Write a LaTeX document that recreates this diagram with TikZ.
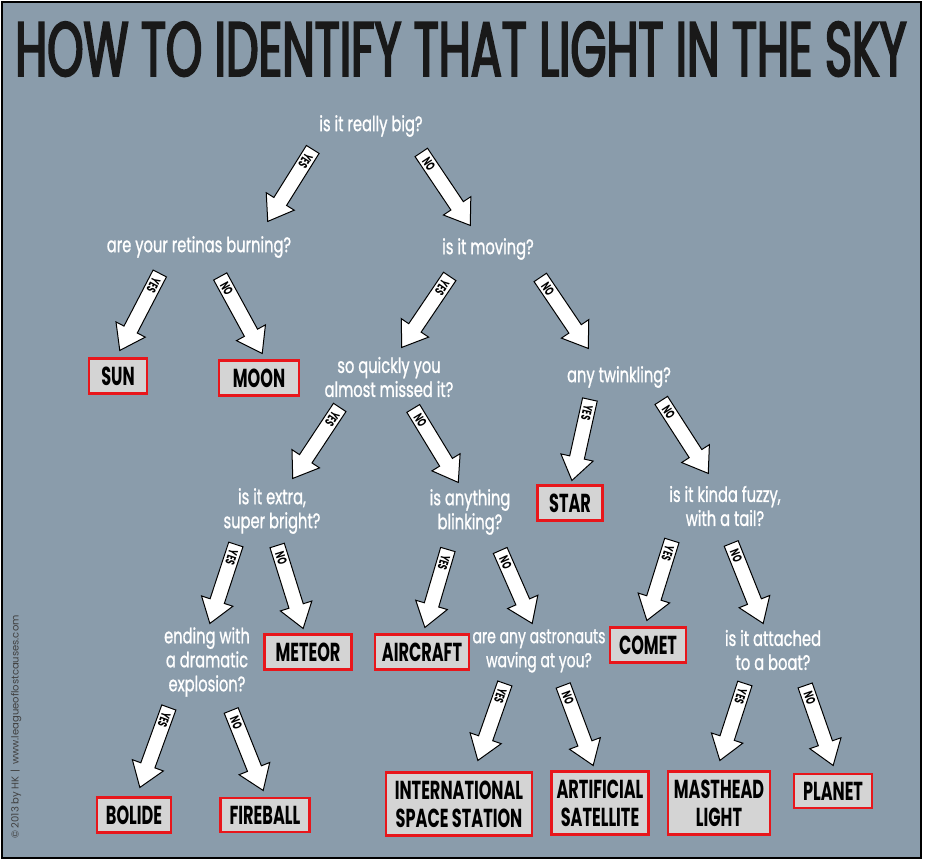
\documentclass[tikz,border=0pt]{standalone}
\usepackage{fontspec}
\setmainfont{Poppins}
\newfontfamily\headfont{Poppins}[FakeStretch=0.6, FakeBold=2.5]
\newfontfamily\askfont{Poppins}[FakeStretch=0.7, FakeBold=1]
\newfontfamily\thingfont{Poppins}[FakeStretch=0.62]
\usetikzlibrary{calc}
\usetikzlibrary{shapes.arrows}

\definecolor{skyblue}{HTML}{8A9CAB}
\definecolor{boxgray}{HTML}{D4D4D4}
\definecolor{boxred}{HTML}{E8161B}

\newcommand\choice[4]{%
  \coordinate (#1-t) at (#2);
  \coordinate (#1-h) at (#3);
  \path let \p1=($(#1-h)-(#1-t)$), \n1={veclen(\x1,\y1)}, \n2={atan2(\y1,\x1)} in
    node[choicearrow, minimum height=\n1, rotate=\n2] (#1) at (#1-t) {}
    node[choicetext, rotate=\n2] (#1-label) at ($(#1-t)!14pt!(#1-h)$) {#4};}

\begin{document}
\begin{tikzpicture}[x=1pt, y=-1pt,
    question/.style={text=white, align=center, font=\askfont\fontsize{21}{24}\selectfont},
    thing/.style={draw=boxred, fill=boxgray, line width=2.5pt, inner xsep=9pt, inner ysep=8pt, align=center, font=\thingfont\bfseries\fontsize{26}{28}\selectfont},
    choicearrow/.style={single arrow, draw=black, fill=white, line width=1pt, inner sep=0pt, inner ysep=7pt, single arrow head extend=9pt, single arrow tip angle=70, anchor=tail},
    choicetext/.style={font=\thingfont\bfseries\fontsize{13}{13}\selectfont, inner sep=0pt},
  ]
    \useasboundingbox (0,0) rectangle (925,863);
    \fill[white] (0,0) rectangle (925,863);
    \draw[line width=2pt, fill=skyblue] (2,2) rectangle (921,858);

    \node[font=\headfont\fontsize{77}{80}\selectfont, anchor=base, text=black!90] (title) at (461,76) {HOW TO IDENTIFY THAT LIGHT IN THE SKY};
    \node[rotate=90, font=\fontsize{10}{10}\selectfont, text=black!75] (credit) at (16,727) {© 2013 by HK \,|\, www.leagueoflostcauses.com};

    \node[question] (big) at (371,126) {is it really big?};
    \node[question] (retina) at (199,247) {are your retinas burning?};
    \node[question] (moving) at (488,249) {is it moving?};
    \node[question] (quick) at (389,377) {so quickly you\\almost missed it?};
    \node[question] (twinkle) at (619,377) {any twinkling?};
    \node[question] (bright) at (272,511) {is it extra,\\super bright?};
    \node[question] (blink) at (470,512) {is anything\\blinking?};
    \node[question] (fuzzy) at (725,506) {is it kinda fuzzy,\\with a tail?};
    \node[question] (explosion) at (207,662) {ending with\\a dramatic\\explosion?};
    \node[question, font=\askfont\fontsize{20}{24}\selectfont] (astronaut) at (539,651) {are any astronauts\\waving at you?};
    \node[question] (boat) at (773,650) {is it attached\\to a boat?};

    \node[thing, minimum width=58pt] (sun) at (118,376) {SUN};
    \node[thing, minimum width=80pt] (moon) at (259,378) {MOON};
    \node[thing, minimum width=65pt] (star) at (570,503) {STAR};
    \node[thing, minimum width=87pt] (meteor) at (308,652) {METEOR};
    \node[thing, inner xsep=7pt] (aircraft) at (422,652) {AIRCRAFT};
    \node[thing] (comet) at (648,645) {COMET};
    \node[thing] (bolide) at (134,815) {BOLIDE};
    \node[thing] (fireball) at (265,815) {FIREBALL};
    \node[thing] (iss) at (459,804) {INTERNATIONAL\\SPACE STATION};
    \node[thing, inner xsep=5pt] (satellite) at (600,803) {ARTIFICIAL\\SATELLITE};
    \node[thing, inner xsep=6pt] (masthead) at (719,803) {MASTHEAD\\LIGHT};
    \node[thing] (planet) at (833,791) {PLANET};

    \choice{bigyes}{313,149}{268,221}{YES}
    \choice{bigno}{421,152}{470,225}{NO}
    \choice{retinayes}{160,273}{120,350}{YES}
    \choice{retinano}{220,276}{262,353}{NO}
    \choice{movingyes}{450,276}{402,347}{YES}
    \choice{movingno}{540,277}{588,348}{NO}
    \choice{quickyes}{340,407}{293,478}{YES}
    \choice{quickno}{413,408}{458,482}{NO}
    \choice{twinkleyes}{590,399}{572,480}{YES}
    \choice{twinkleno}{661,400}{708,473}{NO}
    \choice{brightyes}{236,544}{210,623}{YES}
    \choice{brightno}{277,545}{303,628}{NO}
    \choice{blinkyes}{448,549}{425,627}{YES}
    \choice{blinkno}{500,550}{532,623}{NO}
    \choice{fuzzyyes}{672,540}{647,620}{YES}
    \choice{fuzzyno}{731,543}{763,623}{NO}
    \choice{explosionyes}{169,707}{140,787}{YES}
    \choice{explosionno}{231,710}{263,790}{NO}
    \choice{astronautyes}{505,683}{478,760}{YES}
    \choice{astronautno}{563,685}{593,765}{NO}
    \choice{boatyes}{745,683}{720,760}{YES}
    \choice{boatno}{805,685}{833,765}{NO}
  \end{tikzpicture}
\end{document}
